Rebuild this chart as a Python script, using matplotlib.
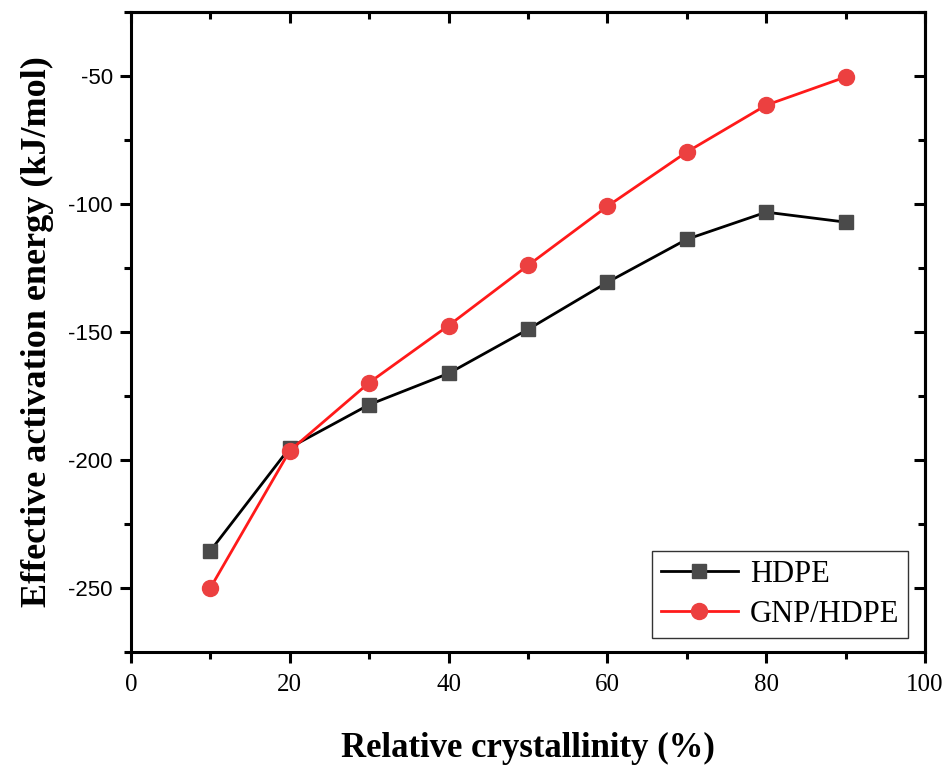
import matplotlib
matplotlib.use("Agg")
import matplotlib.pyplot as plt
from matplotlib.ticker import MultipleLocator

plt.rcParams["axes.unicode_minus"] = False

crystallinity = [10, 20, 30, 40, 50, 60, 70, 80, 90]
hdpe = [-235.5, -195.2, -178.4, -166.2, -149.0, -130.6, -113.8, -103.2, -107.1]
gnp_hdpe = [-250.0, -196.4, -169.8, -147.5, -124.0, -100.9, -79.7, -61.4, -50.4]

fig = plt.figure(figsize=(9.51, 7.67), dpi=100)
ax = fig.add_axes([0.1377, 0.15, 0.835, 0.8344])

ax.plot(crystallinity, hdpe, color="black", lw=2, marker="s", markersize=10.5,
        markerfacecolor="#4a4a4a", markeredgecolor="#4a4a4a", label="HDPE")
ax.plot(crystallinity, gnp_hdpe, color="#ff1a1a", lw=2, marker="o", markersize=11.5,
        markerfacecolor="#ec4040", markeredgecolor="#ec4040", label="GNP/HDPE")

ax.set_xlim(0, 100)
ax.set_ylim(-275, -25)
ax.xaxis.set_major_locator(MultipleLocator(20))
ax.xaxis.set_minor_locator(MultipleLocator(10))
ax.yaxis.set_major_locator(MultipleLocator(50))
ax.yaxis.set_minor_locator(MultipleLocator(25))

for s in ax.spines.values():
    s.set_linewidth(2.2)

ax.tick_params(which="both", direction="out", width=2.2, top=False, right=False)
ax.tick_params(which="major", length=8)
ax.tick_params(which="minor", length=5)

# mirrored inward ticks on top and right
axt = ax.secondary_xaxis("top")
axt.xaxis.set_major_locator(MultipleLocator(20))
axt.xaxis.set_minor_locator(MultipleLocator(10))
axt.tick_params(which="both", direction="in", width=2.2, labeltop=False)
axt.tick_params(which="major", length=8)
axt.tick_params(which="minor", length=5)
axr = ax.secondary_yaxis("right")
axr.yaxis.set_major_locator(MultipleLocator(50))
axr.yaxis.set_minor_locator(MultipleLocator(25))
axr.tick_params(which="both", direction="in", width=2.2, labelright=False)
axr.tick_params(which="major", length=8)
axr.tick_params(which="minor", length=5)
axt.spines["top"].set_linewidth(2.2)
axr.spines["right"].set_linewidth(2.2)

for lab in ax.get_xticklabels():
    lab.set_fontfamily("Liberation Serif")
    lab.set_fontsize(18)
for lab in ax.get_yticklabels():
    lab.set_fontfamily("Liberation Sans")
    lab.set_fontsize(16)
ax.tick_params(axis="x", pad=8)
ax.tick_params(axis="y", pad=5)

ax.set_xlabel("Relative crystallinity (%)", fontfamily="Liberation Serif",
              fontweight="bold", fontsize=25, labelpad=26)
ax.set_ylabel("Effective activation energy (kJ/mol)", fontfamily="Liberation Serif",
              fontweight="bold", fontsize=26, labelpad=10)

leg = ax.legend(loc="lower right", prop={"family": "Liberation Serif", "size": 22},
                frameon=True, fancybox=False, edgecolor="black", handlelength=2.5,
                borderpad=0.3, labelspacing=0.35, handletextpad=0.4,
                borderaxespad=0.0, bbox_to_anchor=(0.979, 0.022))
leg.get_frame().set_linewidth(1.0)

fig.savefig("out.png", dpi=100)
